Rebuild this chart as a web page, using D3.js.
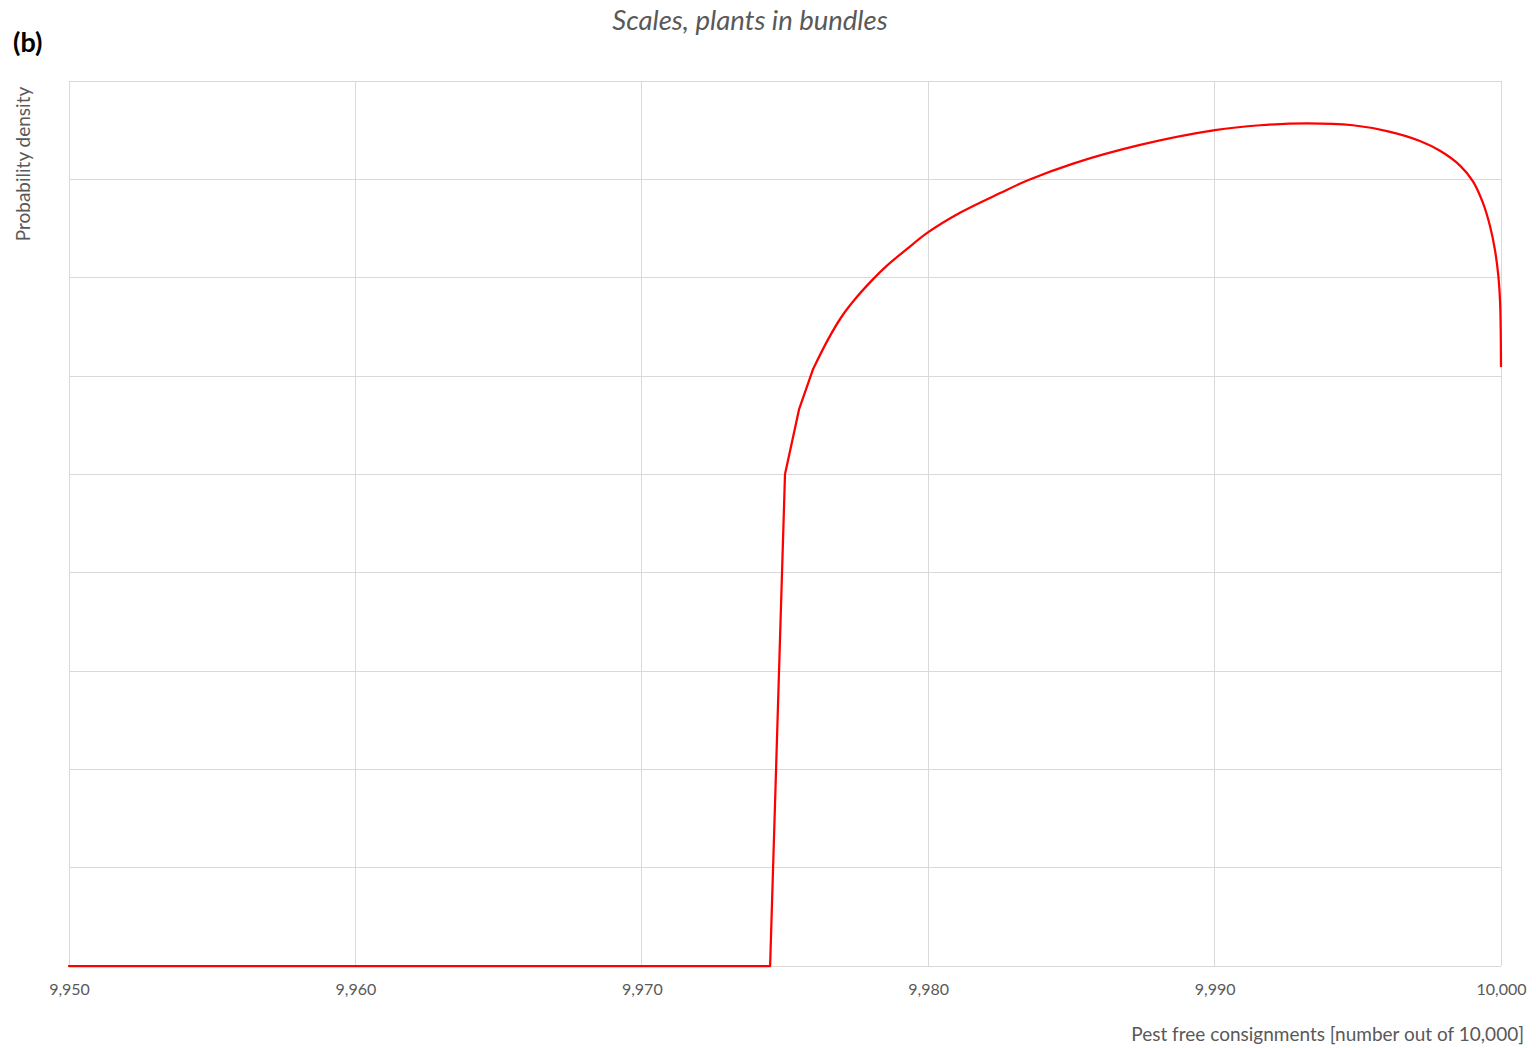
<!DOCTYPE html>
<html><head><meta charset="utf-8">
<script src="https://cdn.jsdelivr.net/npm/d3@7"></script>
<style>body{margin:0;background:#fff}svg{display:block}</style>
</head><body>
<svg id="c" width="1536" height="1048"></svg>
<script>
const xTicks = [9950, 9960, 9970, 9980, 9990, 10000];
const yGrid = [0,1,2,3,4,5,6,7,8,9];
const consignments = [9950, 9974.48, 9975.00, 9975.49, 9975.98, 9976.50, 9976.97, 9977.50, 9978.06, 9978.55, 9979.25, 9979.99, 9981.11, 9982.51, 9983.48, 9985.06, 9987.40, 9990.01, 9991.59, 9993.23, 9994.83, 9996.02, 9997.17, 9997.87, 9998.57, 9999.02, 9999.37, 9999.62, 9999.79, 9999.91, 9999.97, 10000];
const density =      [0,    0,       5.00,    5.66,    6.07,    6.37,    6.60,    6.80,    6.98,    7.12,    7.29,    7.46,    7.66,    7.86,    7.99,    8.16,    8.35,    8.50,    8.55,    8.57,    8.55,    8.49,    8.39,    8.29,    8.14,    7.98,    7.76,    7.52,    7.28,    7.01,    6.74,    6.10];

const svg = d3.select('#c');
const L = 69, R = 1501, T = 81, B = 966;
const x = d3.scaleLinear().domain([9950, 10000]).range([L, R]);
const y = d3.scaleLinear().domain([0, 9]).range([B, T]);
const font = "Lato, 'Open Sans', sans-serif";
const grey = '#595959';

// gridlines
svg.append('g').selectAll('line.h').data(yGrid).join('line')
  .attr('x1', L).attr('x2', R).attr('y1', d => y(d)).attr('y2', d => y(d))
  .attr('stroke', '#d9d9d9').attr('stroke-width', 1).attr('shape-rendering','crispEdges');
svg.append('g').selectAll('line.v').data(xTicks).join('line')
  .attr('x1', d => x(d)).attr('x2', d => x(d)).attr('y1', T).attr('y2', B)
  .attr('stroke', '#d9d9d9').attr('stroke-width', 1).attr('shape-rendering','crispEdges');

// x axis labels
const fmt = d3.format(',');
const xAxis = d3.axisBottom(x).tickValues(xTicks).tickFormat(fmt).tickSize(0).tickPadding(18);
const gx = svg.append('g').attr('transform', `translate(0,${B})`).call(xAxis);
gx.select('.domain').remove();
gx.selectAll('text').attr('fill', grey).style('font-family', font).style('font-size', '16px');

// line: sharp corners at the start, smooth curve afterwards
const pts = consignments.map((c, i) => [c, density[i]]);
const split = 4;
const lineStyle = p => p.attr('fill', 'none').attr('stroke', '#ff0000').attr('stroke-width', 2.25)
  .attr('stroke-linejoin', 'round').attr('stroke-linecap', 'round');
svg.append('path').datum(pts.slice(0, split + 1)).call(lineStyle)
  .attr('d', d3.line().x(d => x(d[0])).y(d => y(d[1])));
svg.append('path').datum(pts.slice(split)).call(lineStyle)
  .attr('d', d3.line().curve(d3.curveCatmullRom.alpha(0.5)).x(d => x(d[0])).y(d => y(d[1])));

// texts
svg.append('text').attr('x', 13).attr('y', 52).text('(b)')
  .style('font-family', font).style('font-size', '27px').style('font-weight', 'bold').attr('fill', '#000');
svg.append('text').attr('x', 750).attr('y', 30).attr('text-anchor', 'middle').text('Scales, plants in bundles')
  .style('font-family', font).style('font-size', '27.5px').style('font-style', 'italic').attr('fill', grey);
svg.append('text').attr('transform', 'translate(30,164) rotate(-90)').attr('text-anchor', 'middle')
  .text('Probability density').style('font-family', font).style('font-size', '19px').attr('fill', grey);
svg.append('text').attr('x', 1524).attr('y', 1041).attr('text-anchor', 'end')
  .text('Pest free consignments [number out of 10,000]')
  .style('font-family', font).style('font-size', '19px').attr('fill', grey);
</script>
</body></html>
